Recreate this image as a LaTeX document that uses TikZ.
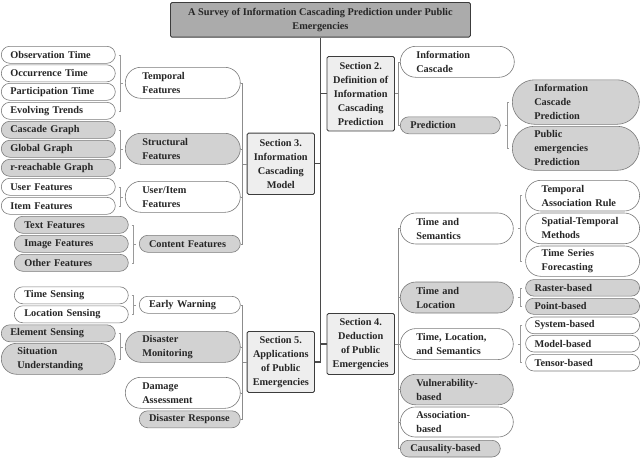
\documentclass[tikz,border=0pt]{standalone}
\usepackage{fontspec}
\setmainfont{Liberation Serif}
\definecolor{txtcol}{HTML}{262626}
\definecolor{pillline}{HTML}{7A7A7A}
\definecolor{pillfill}{HTML}{D2D2D2}
\definecolor{secline}{HTML}{3C3C3C}
\definecolor{secfill}{HTML}{EEEEEE}
\definecolor{titlefill}{HTML}{ABABAB}
\definecolor{trunkcol}{HTML}{4A4A4A}
\definecolor{spinecol}{HTML}{8C8C8C}
\definecolor{bracecol}{HTML}{9A9A9A}

\begin{document}
\begin{tikzpicture}[x=1pt, y=-1pt, font=\fontsize{10.3}{14}\selectfont\bfseries, text=txtcol,
	pill/.style n args={3}{draw=pillline, line width=0.6pt, anchor=north west,
		minimum width=#1, minimum height=#2, inner xsep=#3, inner ysep=0pt,
		text width={#1-2*(#3)}, align=left, rounded corners={0.5*(#2)}},
	wpill/.style n args={3}{pill={#1}{#2}{#3}, fill=white},
	gpill/.style n args={3}{pill={#1}{#2}{#3}, fill=pillfill},
	secbox/.style 2 args={draw=secline, fill=secfill, line width=0.9pt, rounded corners=1.5pt,
		anchor=north west, align=center, inner sep=0pt, minimum width=#1, minimum height=#2},
	titlebox/.style={draw=secline, fill=titlefill, line width=0.9pt, rounded corners=1.5pt,
		anchor=north west, align=center, inner sep=0pt, minimum width=300, minimum height=34.7},
	trunk/.style={draw=trunkcol, line width=1.1pt},
	spine/.style={draw=spinecol, line width=0.6pt},
	brace/.style={draw=bracecol, line width=0.5pt}]
	\useasboundingbox (0,0) rectangle (640,458);

	% title and sections
	\node[titlebox] (title) at (170,2) {A Survey of Information Cascading Prediction under Public\\Emergencies};
	\node[secbox={67.5}{74.5}] (sec2) at (326.5,56) {Section 2.\\Definition of\\Information\\Cascading\\Prediction};
	\node[secbox={67.3}{61.3}] (sec3) at (246.7,132.7) {Section 3.\\Information\\Cascading\\Model};
	\node[secbox={67.5}{61}] (sec4) at (326.5,313) {Section 4.\\Deduction\\of Public\\Emergencies};
	\node[secbox={67.3}{61}] (sec5) at (246.7,331) {Section 5.\\Applications\\of Public\\Emergencies};

	\draw[trunk] (title.south) |- (sec5.east);
	\draw[trunk] (sec2.west) -- (sec2.west -| title.south);
	\draw[trunk] (sec3.east) -- (sec3.east -| title.south);
	\draw[trunk] (sec4.west) -- (sec4.west -| title.south);

	% section 3
	\node[wpill={115}{31}{17}] (temporal) at (125,67) {Temporal\\Features};
	\node[gpill={115}{31}{17}] (struct) at (125,133) {Structural\\Features};
	\node[wpill={115}{31}{17}] (useritem) at (125,181) {User/Item\\Features};
	\node[gpill={101}{17}{9.7}] (content) at (139,235) {Content Features};

	\node[wpill={114}{17}{9}] (obs) at (1,46) {Observation Time};
	\node[wpill={114}{17}{9}] (occ) at (1,64.5) {Occurrence Time};
	\node[wpill={114}{17}{9}] (part) at (1,83) {Participation Time};
	\node[wpill={114}{17}{9}] (evol) at (1,102) {Evolving Trends};
	\node[gpill={114}{17}{9}] (cascg) at (1,121) {Cascade Graph};
	\node[gpill={114}{17}{9}] (globg) at (1,140) {Global Graph};
	\node[gpill={114}{17}{9}] (reachg) at (1,159) {r-reachable Graph};
	\node[wpill={114}{17}{9}] (userf) at (1,178) {User Features};
	\node[wpill={114}{17}{9}] (itemf) at (1,197) {Item Features};
	\node[gpill={114}{17}{10}] (textf) at (14,216) {Text Features};
	\node[gpill={114}{17}{10}] (imagef) at (14,235) {Image Features};
	\node[gpill={114}{17}{10}] (otherf) at (14,254) {Other Features};

	\coordinate (s3l) at ([xshift=-4.7pt]sec3.west);
	\draw[spine] (sec3.west) -- (s3l);
	\draw[spine] (temporal.east) -| (s3l);
	\draw[spine] (struct.east) -| (s3l);
	\draw[spine] (useritem.east) -| (s3l);
	\draw[spine] (content.east) -| (s3l);

	\draw[brace] ([xshift=3pt]obs.east) -- ++(2,0) |- ([xshift=3pt]evol.east);
	\draw[brace] ([xshift=5pt]obs.east |- temporal.west) -- ++(2,0);
	\draw[brace] ([xshift=3pt]cascg.east) -- ++(2,0) |- ([xshift=3pt]reachg.east);
	\draw[brace] ([xshift=5pt]cascg.east |- struct.west) -- ++(2,0);
	\draw[brace] ([xshift=3pt]userf.east) -- ++(2,0) |- ([xshift=3pt]itemf.east);
	\draw[brace] ([xshift=5pt]userf.east |- useritem.west) -- ++(2,0);
	\draw[brace] ([xshift=3pt]textf.east) -- ++(2,0) |- ([xshift=3pt]otherf.east);
	\draw[brace] ([xshift=5pt]textf.east |- content.west) -- ++(2,0);

	% section 5
	\node[wpill={101}{17}{9.7}] (early) at (139,296) {Early Warning};
	\node[gpill={115}{31}{17}] (monitor) at (125,331) {Disaster\\Monitoring};
	\node[wpill={115}{31}{17}] (damage) at (125,377) {Damage\\Assessment};
	\node[gpill={101}{17}{9.7}] (response) at (139,410.5) {Disaster Response};

	\node[wpill={114}{17}{10}] (timesens) at (14,286.5) {Time Sensing};
	\node[wpill={114}{17}{10}] (locsens) at (14,305.5) {Location Sensing};
	\node[gpill={114}{17}{9}] (elemsens) at (1,324.5) {Element Sensing};
	\node[gpill={114}{31}{16}] (situ) at (1,343) {Situation\\Understanding};

	\coordinate (s5l) at ([xshift=-4.7pt]sec5.west);
	\draw[spine] (sec5.west) -- (s5l);
	\draw[spine] (early.east) -| (s5l);
	\draw[spine] (monitor.east) -| (s5l);
	\draw[spine] (damage.east) -| (s5l);
	\draw[spine] (response.east) -| (s5l);

	\draw[brace] ([xshift=3pt]timesens.east) -- ++(2,0) |- ([xshift=3pt]locsens.east);
	\draw[brace] ([xshift=5pt]timesens.east |- early.west) -- ++(2,0);
	\draw[brace] ([xshift=3pt]elemsens.east) -- ++(2,0) |- ([xshift=3pt]situ.east);
	\draw[brace] ([xshift=5pt]elemsens.east |- monitor.west) -- ++(2,0);

	% section 2
	\node[wpill={114}{31}{16}] (infocasc) at (400,46) {Information\\Cascade};
	\node[gpill={100}{17}{10}] (pred) at (400,116.5) {Prediction};
	\node[gpill={127}{44.5}{22}] (icpred) at (512,79.5) {Information\\Cascade\\Prediction};
	\node[gpill={127}{44}{22}] (pepred) at (512,126) {Public\\emergencies\\Prediction};

	\coordinate (s2r) at ([xshift=3pt]sec2.east);
	\draw[spine] (sec2.east) -- (s2r);
	\draw[spine] (infocasc.west) -| (s2r);
	\draw[spine] (pred.west) -| (s2r);

	\draw[brace] ([xshift=-3pt]icpred.west) -- ++(-2,0) |- ([xshift=-3pt]pepred.west);
	\draw[brace] ([xshift=-5pt]icpred.west |- pred.east) -- ++(-2,0);

	% section 4
	\node[wpill={113}{31}{16}] (timesem) at (400,212.7) {Time and\\Semantics};
	\node[gpill={113}{31}{16}] (timeloc) at (400,281.7) {Time and\\Location};
	\node[wpill={113}{31}{16}] (tlsem) at (400,328.3) {Time, Location,\\and Semantics};
	\node[gpill={113}{30.5}{16}] (vuln) at (400,374) {Vulnerability-\\based};
	\node[wpill={113}{30}{16}] (assoc) at (400,406.7) {Association-\\based};
	\node[gpill={100}{16.7}{10}] (causal) at (400,440) {Causality-based};

	\node[wpill={114}{30.7}{16}] (tarule) at (525.3,180) {Temporal\\Association Rule};
	\node[wpill={114}{30.7}{16}] (stmeth) at (525.3,212.7) {Spatial-Temporal\\Methods};
	\node[wpill={114}{30.3}{16}] (tsfore) at (525.3,245.7) {Time Series\\Forecasting};
	\node[gpill={114}{16.5}{9}] (raster) at (525.3,279.3) {Raster-based};
	\node[gpill={114}{16}{9}] (point) at (525.3,298) {Point-based};
	\node[wpill={114}{16.7}{9}] (system) at (525.3,316.7) {System-based};
	\node[wpill={114}{16.7}{9}] (model) at (525.3,335) {Model-based};
	\node[wpill={114}{16.7}{9}] (tensor) at (525.3,354) {Tensor-based};

	\coordinate (s4r) at ([xshift=3pt]sec4.east);
	\draw[spine] (sec4.east) -- (s4r);
	\draw[spine] (timesem.west) -| (s4r);
	\draw[spine] (timeloc.west) -| (s4r);
	\draw[spine] (tlsem.west) -| (s4r);
	\draw[spine] (vuln.west) -| (s4r);
	\draw[spine] (assoc.west) -| (s4r);
	\draw[spine] (causal.west) -| (s4r);

	\draw[brace] ([xshift=-3pt]tarule.west) -- ++(-2,0) |- ([xshift=-3pt]tsfore.west);
	\draw[brace] ([xshift=-5pt]tarule.west |- timesem.east) -- ++(-2,0);
	\draw[brace] ([xshift=-3pt]raster.west) -- ++(-2,0) |- ([xshift=-3pt]point.west);
	\draw[brace] ([xshift=-5pt]raster.west |- timeloc.east) -- ++(-2,0);
	\draw[brace] ([xshift=-3pt]system.west) -- ++(-2,0) |- ([xshift=-3pt]tensor.west);
	\draw[brace] ([xshift=-5pt]system.west |- tlsem.east) -- ++(-2,0);
\end{tikzpicture}
\end{document}
